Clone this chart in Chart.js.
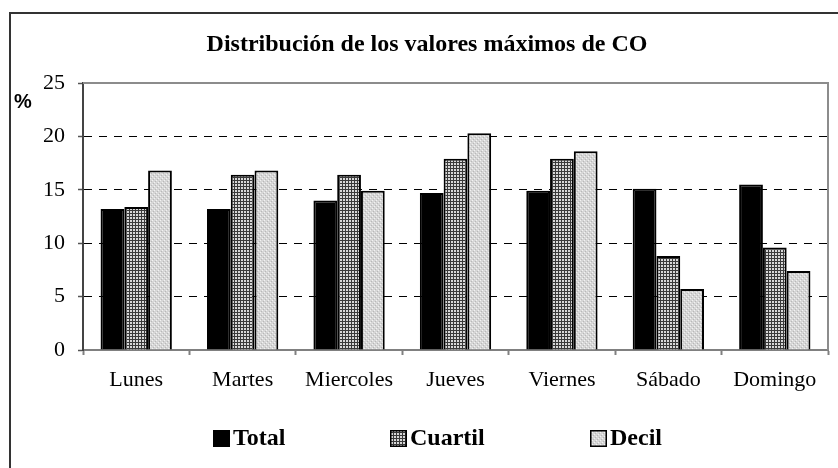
<!DOCTYPE html>
<html>
<head>
<meta charset="utf-8">
<script src="https://cdn.jsdelivr.net/npm/chart.js@4.4.0/dist/chart.umd.min.js"></script>
<style>
  html, body { margin: 0; padding: 0; background: #fff; }
  #wrap { position: relative; width: 838px; height: 468px; }
</style>
</head>
<body>
<div id="wrap"><canvas id="chart" width="838" height="468"></canvas></div>
<script>
// Data
const categories = ['Lunes', 'Martes', 'Miercoles', 'Jueves', 'Viernes', 'Sábado', 'Domingo'];
const totalValues = [13.2, 13.2, 14.0, 14.7, 14.9, 15.1, 15.5];
const cuartilValues = [13.4, 16.4, 16.4, 17.9, 17.9, 8.8, 9.6];
const decilValues = [16.8, 16.8, 14.9, 20.3, 18.6, 5.7, 7.4];
const yTicks = [0, 5, 10, 15, 20, 25];

const SERIF = '"Liberation Serif", "Times New Roman", serif';
const SANS = '"Liberation Sans", Arial, sans-serif';

// Fill patterns like the old spreadsheet hatching
function makePattern(size, bg, dots) {
  const c = document.createElement('canvas');
  c.width = size; c.height = size;
  const g = c.getContext('2d');
  g.fillStyle = bg;
  g.fillRect(0, 0, size, size);
  dots.forEach(d => {
    g.fillStyle = d[2];
    g.fillRect(d[0], d[1], d[3] || 1, d[4] || 1);
  });
  return g.createPattern(c, 'repeat');
}

const ctxMain = document.getElementById('chart').getContext('2d');
const gridPattern = makePattern(3, '#d8d8d8', [[0, 0, '#3a3a3a', 3, 1], [0, 0, '#3a3a3a', 1, 3]]);
const dotPattern = makePattern(4, '#d6d6d6', [[0, 0, '#f2f2f2'], [2, 2, '#f2f2f2'], [1, 3, '#b8b8b8'], [3, 1, '#b8b8b8']]);

// Frame, title, "%" and legend drawn on top
const decorations = {
  id: 'decorations',
  afterDraw(chart) {
    const { ctx, chartArea } = chart;
    ctx.save();
    // outer frame (left and top edges only visible)
    ctx.strokeStyle = '#333';
    ctx.lineWidth = 2;
    ctx.beginPath();
    ctx.moveTo(10, 468);
    ctx.lineTo(10, 13);
    ctx.lineTo(838, 13);
    ctx.stroke();

    // plot area top/right border
    ctx.strokeStyle = '#8c8c8c';
    ctx.lineWidth = 2;
    ctx.beginPath();
    ctx.moveTo(chartArea.left, chartArea.top);
    ctx.lineTo(chartArea.right, chartArea.top);
    ctx.lineTo(chartArea.right, chartArea.bottom);
    ctx.stroke();

    // title
    ctx.fillStyle = '#000';
    ctx.font = 'bold 24px ' + SERIF;
    ctx.textAlign = 'center';
    ctx.textBaseline = 'middle';
    ctx.fillText('Distribución de los valores máximos de CO', 427, 45);

    // y unit
    ctx.font = 'bold 20px ' + SANS;
    ctx.textAlign = 'left';
    ctx.fillText('%', 14, 102);

    // legend
    const legendX = [213, 390, 590];
    ctx.font = 'bold 24px ' + SERIF;
    chart.data.datasets.forEach((ds, i) => {
      const x = legendX[i];
      const y = 430;
      ctx.fillStyle = ds.backgroundColor;
      ctx.fillRect(x, y, 17, 17);
      ctx.strokeStyle = '#000';
      ctx.lineWidth = 1.5;
      ctx.strokeRect(x + 0.75, y + 0.75, 15.5, 15.5);
      ctx.fillStyle = '#000';
      ctx.fillText(ds.label, x + 20, y + 9);
    });
    ctx.restore();
  }
};

new Chart(ctxMain, {
  type: 'bar',
  data: {
    labels: categories,
    datasets: [
      { label: 'Total', data: totalValues, backgroundColor: '#000', borderColor: '#000', borderWidth: 2 },
      { label: 'Cuartil', data: cuartilValues, backgroundColor: gridPattern, borderColor: '#000', borderWidth: 2 },
      { label: 'Decil', data: decilValues, backgroundColor: dotPattern, borderColor: '#000', borderWidth: 2 }
    ]
  },
  options: {
    responsive: false,
    animation: false,
    devicePixelRatio: 1,
    layout: { padding: { left: 0, top: 83, right: 10, bottom: 68 } },
    datasets: { bar: { categoryPercentage: 0.67, barPercentage: 1.0 } },
    plugins: {
      legend: { display: false },
      title: { display: false },
      tooltip: { enabled: false }
    },
    scales: {
      x: {
        afterFit(scale) { scale.height = 50; },
        grid: {
          offset: true,
          drawOnChartArea: false,
          drawTicks: true,
          tickLength: 5,
          tickColor: '#808080',
          tickWidth: 2
        },
        border: { color: '#808080', width: 2 },
        ticks: {
          color: '#000',
          padding: 12,
          maxRotation: 0,
          font: { family: SERIF, size: 22 }
        }
      },
      y: {
        min: 0,
        max: 25,
        afterFit(scale) { scale.width = 83; },
        afterBuildTicks(scale) { scale.ticks = yTicks.map(v => ({ value: v })); },
        grid: {
          color: c => (c.tick && (c.tick.value === 0 || c.tick.value === 25)) ? 'rgba(0,0,0,0)' : '#000',
          lineWidth: 1,
          drawTicks: true,
          tickLength: 5,
          tickColor: '#555',
          tickWidth: 1.5,
          tickBorderDash: []
        },
        border: { color: '#444', width: 2, dash: [8, 7] },
        ticks: {
          color: '#000',
          padding: 13,
          font: { family: SERIF, size: 22 }
        }
      }
    }
  },
  plugins: [decorations]
});
</script>
</body>
</html>
